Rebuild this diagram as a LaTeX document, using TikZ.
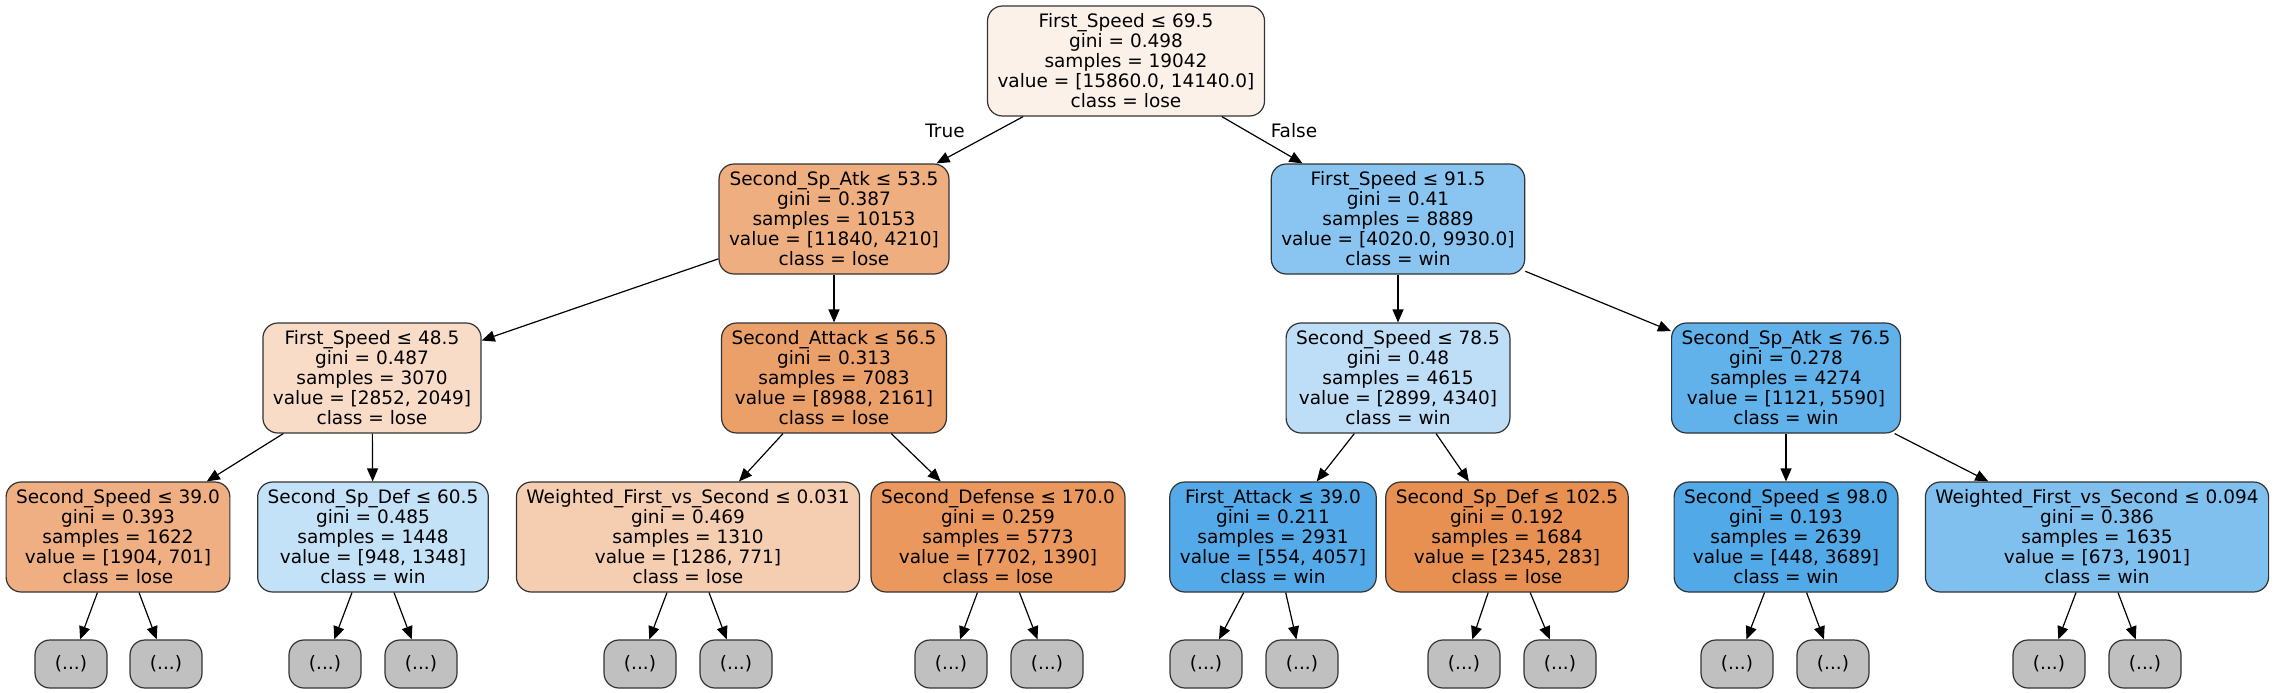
\documentclass[tikz,border=0pt]{standalone}
\usepackage{fontspec}
\setmainfont{DejaVu Sans}
\usetikzlibrary{arrows.meta}
% node colours (lose = orange, win = blue)
\definecolor{fillA}{RGB}{252,241,233}
\definecolor{fillB}{RGB}{238,174,127}
\definecolor{fillC}{RGB}{137,197,240}
\definecolor{fillD}{RGB}{248,220,199}
\definecolor{fillE}{RGB}{235,159,105}
\definecolor{fillF}{RGB}{189,222,246}
\definecolor{fillG}{RGB}{97,177,234}
\definecolor{fillH}{RGB}{239,175,130}
\definecolor{fillI}{RGB}{196,226,247}
\definecolor{fillJ}{RGB}{245,205,176}
\definecolor{fillK}{RGB}{234,152,93}
\definecolor{fillL}{RGB}{84,170,233}
\definecolor{fillM}{RGB}{232,144,81}
\definecolor{fillN}{RGB}{81,169,232}
\definecolor{fillO}{RGB}{127,192,238}
\definecolor{leafgray}{RGB}{192,192,192}
\begin{document}
\begin{tikzpicture}[x=1pt,y=-1pt,
  split/.style={draw=black!80,line width=1.2pt,rounded corners=15pt,align=center,
    minimum height=110pt,inner xsep=10pt,font=\fontsize{18.5}{20}\selectfont},
  leaf/.style={draw=black!80,line width=1.2pt,rounded corners=15pt,fill=leafgray,
    minimum width=72pt,minimum height=48pt,font=\fontsize{18.5}{20}\selectfont},
  branch/.style={-{Triangle[length=13pt,width=11pt]},line width=1.2pt},
  lbl/.style={font=\fontsize{18.5}{20}\selectfont}]
\useasboundingbox (0,0) rectangle (2276,693);
% level 0
\node[split,fill=fillA] (root) at (1126,61) {First\_Speed ≤ 69.5\\gini = 0.498\\samples = 19042\\value = [15860.0, 14140.0]\\class = lose};
% level 1
\node[split,fill=fillB] (spatkA) at (834,219) {Second\_Sp\_Atk ≤ 53.5\\gini = 0.387\\samples = 10153\\value = [11840, 4210]\\class = lose};
\node[split,fill=fillC] (fspdB) at (1398,219) {First\_Speed ≤ 91.5\\gini = 0.41\\samples = 8889\\value = [4020.0, 9930.0]\\class = win};
% level 2
\node[split,fill=fillD] (fspdA) at (372,378) {First\_Speed ≤ 48.5\\gini = 0.487\\samples = 3070\\value = [2852, 2049]\\class = lose};
\node[split,fill=fillE] (satk) at (834,378) {Second\_Attack ≤ 56.5\\gini = 0.313\\samples = 7083\\value = [8988, 2161]\\class = lose};
\node[split,fill=fillF] (sspdB) at (1398,378) {Second\_Speed ≤ 78.5\\gini = 0.48\\samples = 4615\\value = [2899, 4340]\\class = win};
\node[split,fill=fillG] (spatkB) at (1786,378) {Second\_Sp\_Atk ≤ 76.5\\gini = 0.278\\samples = 4274\\value = [1121, 5590]\\class = win};
% level 3
\node[split,fill=fillH] (sspdA) at (118,537) {Second\_Speed ≤ 39.0\\gini = 0.393\\samples = 1622\\value = [1904, 701]\\class = lose};
\node[split,fill=fillI] (spdefA) at (373,537) {Second\_Sp\_Def ≤ 60.5\\gini = 0.485\\samples = 1448\\value = [948, 1348]\\class = win};
\node[split,fill=fillJ] (wfsA) at (688,537) {Weighted\_First\_vs\_Second ≤ 0.031\\gini = 0.469\\samples = 1310\\value = [1286, 771]\\class = lose};
\node[split,fill=fillK] (sdef) at (998,537) {Second\_Defense ≤ 170.0\\gini = 0.259\\samples = 5773\\value = [7702, 1390]\\class = lose};
\node[split,fill=fillL] (fatk) at (1273,537) {First\_Attack ≤ 39.0\\gini = 0.211\\samples = 2931\\value = [554, 4057]\\class = win};
\node[split,fill=fillM] (spdefB) at (1507,537) {Second\_Sp\_Def ≤ 102.5\\gini = 0.192\\samples = 1684\\value = [2345, 283]\\class = lose};
\node[split,fill=fillN] (sspdC) at (1786,537) {Second\_Speed ≤ 98.0\\gini = 0.193\\samples = 2639\\value = [448, 3689]\\class = win};
\node[split,fill=fillO] (wfsB) at (2097,537) {Weighted\_First\_vs\_Second ≤ 0.094\\gini = 0.386\\samples = 1635\\value = [673, 1901]\\class = win};
% level 4, cut-off subtrees
\foreach \p/\xa/\xb in {sspdA/71/166,spdefA/325/421,wfsA/640/736,sdef/951/1047,
    fatk/1206/1302,spdefB/1464/1560,sspdC/1737/1833,wfsB/2049/2145}{
  \node[leaf] (\p-l) at (\xa,664) {(...)};
  \node[leaf] (\p-r) at (\xb,664) {(...)};
  \draw[branch] (\p) -- (\p-l);
  \draw[branch] (\p) -- (\p-r);
}
% connectors
\draw[branch] (root) -- (spatkA);
\draw[branch] (root) -- (fspdB);
\draw[branch] (spatkA) -- (fspdA);
\draw[branch] (spatkA) -- (satk);
\draw[branch] (fspdB) -- (sspdB);
\draw[branch] (fspdB) -- (spatkB);
\draw[branch] (fspdA) -- (sspdA);
\draw[branch] (fspdA) -- (spdefA);
\draw[branch] (satk) -- (wfsA);
\draw[branch] (satk) -- (sdef);
\draw[branch] (sspdB) -- (fatk);
\draw[branch] (sspdB) -- (spdefB);
\draw[branch] (spatkB) -- (sspdC);
\draw[branch] (spatkB) -- (wfsB);
\node[lbl] (true) at (945,131) {True};
\node[lbl] (false) at (1294,131) {False};
\end{tikzpicture}
\end{document}
